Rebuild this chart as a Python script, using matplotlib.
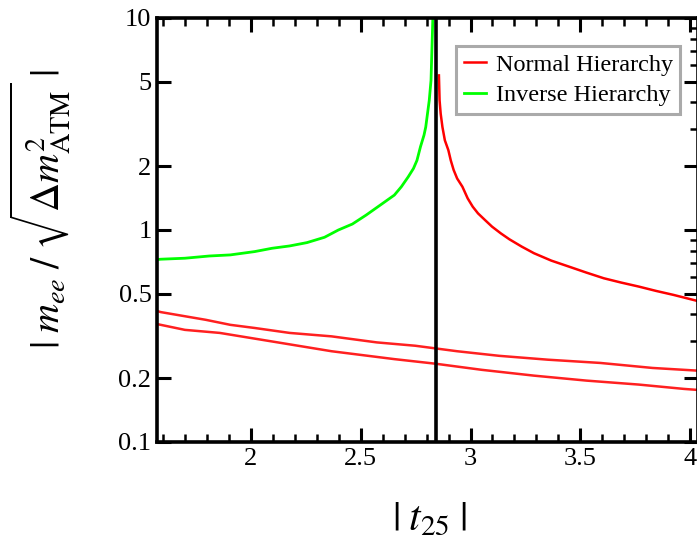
import matplotlib
matplotlib.use('Agg')
import matplotlib.pyplot as plt
from matplotlib.ticker import FixedLocator, LogLocator, NullFormatter

plt.rcParams['font.family'] = ['Liberation Serif', 'DejaVu Serif']
plt.rcParams['mathtext.fontset'] = 'stix'

# inverse hierarchy (green), diverging at the vertical line
ih_x = [1.572, 1.588, 1.699, 1.810, 1.906, 2.017, 2.096, 2.176, 2.255, 2.335, 2.398, 2.462, 2.525,
        2.589, 2.653, 2.685, 2.716, 2.740, 2.756, 2.772, 2.788, 2.796, 2.804, 2.812, 2.820, 2.824,
        2.828, 2.831]
ih_y = [0.725, 0.728, 0.736, 0.754, 0.763, 0.791, 0.820, 0.841, 0.872, 0.924, 1.0, 1.067, 1.177,
        1.311, 1.461, 1.60, 1.78, 1.95, 2.13, 2.47, 2.80, 3.06, 3.54, 4.09, 5.08, 7.03,
        9.73, 12.0]

# normal hierarchy, branch right of the pole
nh_x = [2.856, 2.859, 2.864, 2.872, 2.883, 2.899, 2.910, 2.923, 2.939, 2.963, 2.987, 3.010, 3.034,
        3.066, 3.098, 3.138, 3.177, 3.233, 3.289, 3.368, 3.448, 3.527, 3.607, 3.686, 3.766, 3.845,
        3.925, 4.036]
nh_y = [5.36, 4.09, 3.54, 3.06, 2.65, 2.38, 2.13, 1.92, 1.75, 1.60, 1.41, 1.288, 1.198,
        1.114, 1.037, 0.964, 0.904, 0.835, 0.777, 0.717, 0.672, 0.630, 0.592, 0.565, 0.541, 0.516,
        0.494, 0.462]

# normal hierarchy, two lower solutions
nh_a_x = [1.572, 1.589, 1.794, 1.906, 2.017, 2.176, 2.367, 2.573, 2.748, 2.939, 3.130, 3.352, 3.591, 3.829, 4.036]
nh_a_y = [0.415, 0.41, 0.377, 0.357, 0.345, 0.327, 0.315, 0.295, 0.2845, 0.268, 0.255, 0.2445, 0.236, 0.2235, 0.217]
nh_b_x = [1.572, 1.589, 1.699, 1.858, 2.096, 2.367, 2.653, 2.841, 3.051, 3.289, 3.528, 3.766, 3.972, 4.036]
nh_b_y = [0.36, 0.357, 0.338, 0.327, 0.298, 0.268, 0.246, 0.234, 0.219, 0.2056, 0.1948, 0.1866, 0.178, 0.176]

pole_x = 2.841

xmajor = [2, 2.5, 3, 3.5, 4]
xlabels = ['2', '2.5', '3', '3.5', '4']
ymajor = [0.1, 0.2, 0.5, 1, 2, 5, 10]
ylabels = ['0.1', '0.2', '0.5', '1', '2', '5', '10']

fig = plt.figure(figsize=(6.97, 5.56), dpi=100)
ax = fig.add_axes([157/697, 114/556, 541/697, 424/556])

ax.plot(nh_x, nh_y, color='#ff0000', lw=1.8, label='Normal Hierarchy')
ax.plot(ih_x, ih_y, color='#00ff00', lw=2.0, label='Inverse Hierarchy')
ax.plot(nh_a_x, nh_a_y, color='#ff2020', lw=1.8)
ax.plot(nh_b_x, nh_b_y, color='#ff2020', lw=1.8)
ax.axvline(pole_x, color='black', lw=2.6)

ax.set_yscale('log')
ax.set_xlim(1.572, 4.036)
ax.set_ylim(0.1, 10)

ax.xaxis.set_major_locator(FixedLocator(xmajor))
ax.set_xticklabels(xlabels)
ax.xaxis.set_minor_locator(FixedLocator([1.6 + 0.1*i for i in range(25)]))
ax.yaxis.set_major_locator(FixedLocator(ymajor))
ax.set_yticklabels(ylabels)
ax.yaxis.set_minor_locator(LogLocator(base=10, subs=range(2, 10)))
ax.yaxis.set_minor_formatter(NullFormatter())

ax.tick_params(which='both', direction='in', top=True, right=True, labelsize=19)
ax.tick_params(which='major', length=10, width=2.2, pad=4)
ax.tick_params(which='minor', length=6, width=1.8)
ax.tick_params(axis='y', which='minor', left=False, right=True)
for s in ax.spines.values():
    s.set_linewidth(2.6)

leg = ax.legend(loc='upper left', bbox_to_anchor=(0.553, 0.934), borderaxespad=0,
                fontsize=17.5, handlelength=0.9, handletextpad=0.4, labelspacing=0.34,
                borderpad=0.32, fancybox=False, framealpha=1)
leg.get_frame().set_edgecolor('#aaaaaa')
leg.get_frame().set_linewidth(2.2)

fig.text(430/697, 1 - 520/556, r'$|\;t_{25}\;|$', fontsize=30, ha='center', va='center')
fig.text(40/697, 1 - 209/556, r'$|\;m_{ee}\;/\;\sqrt{\Delta m^2_{\rm ATM}}\;|$',
         fontsize=29, rotation=90, ha='center', va='center')

fig.savefig('out.png', dpi=100)
